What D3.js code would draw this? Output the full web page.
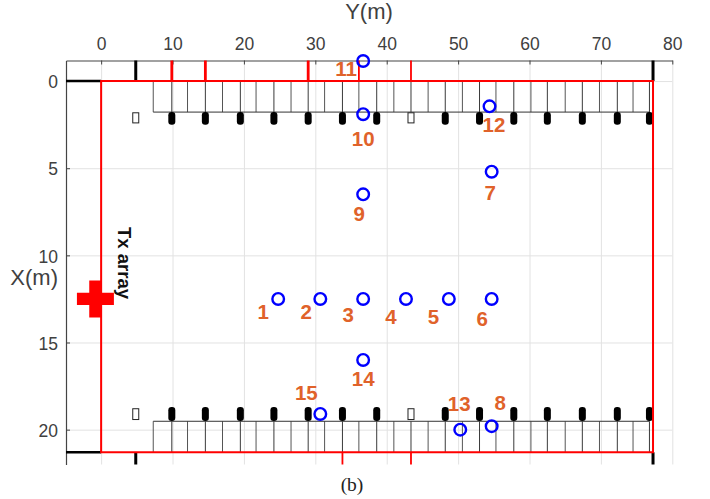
<!DOCTYPE html>
<html>
<head>
<meta charset="utf-8">
<script src="https://cdn.jsdelivr.net/npm/d3@7"></script>
<style>
  html, body { margin: 0; background: #fff; }
  text { font-family: "Liberation Sans", Arial, sans-serif; }
</style>
</head>
<body>
<div id="chart"></div>
<script>
// receiver points, numbered 1..15
const pointIds = [1, 2, 3, 4, 5, 6, 7, 8, 9, 10, 11, 12, 13, 14, 15];
const pointY = [24.8, 30.7, 36.7, 42.7, 48.7, 54.7, 54.7, 54.7, 36.7, 36.7, 36.7, 54.4, 50.3, 36.7, 30.7];
const pointX = [12.5, 12.5, 12.5, 12.5, 12.5, 12.5, 5.2, 19.8, 6.5, 1.9, -1.15, 1.45, 20, 16, 19.1];

// room outline and parking rows, in metres
const roomY = [0, 77.3];
const roomX = [0, 21.3];
const stallLines = [7.3, 9.9, 12.1, 14.6, 17, 19.5, 21.7, 24.2, 26.6, 29, 31.3, 33.8, 36.1, 38.6, 41, 43.4, 45.8, 48.2, 50.6, 53, 55.3, 57.8, 60.2, 62.5, 65, 67.4, 69.8, 72.3, 74.5, 76.8];
const stallDepth = 1.78;
const carPositions = [9.9, 14.6, 19.5, 24.2, 29, 33.8, 38.6, 48.2, 53, 57.8, 62.5, 67.4, 72.3, 76.8];
const pillarPositions = [4.85, 43.4];

// marks on the axis edges
const topRedTicks = [9.9, 14.6, 29];
const topThinRedTicks = [36.1, 43.4];
const bottomRedTicks = [33.8, 43.4];
const blackTicks = [4.85, 77.3];

const xTickValues = [0, 10, 20, 30, 40, 50, 60, 70, 80];
const yTickValues = [0, 5, 10, 15, 20];
const txPosition = [-0.8, 12.5];

const width = 710, height = 499;
const plotLeft = 66, plotRight = 672.3, plotTop = 60.5, plotBottom = 464.5;

const x = d3.scaleLinear().domain([-4.92, 80]).range([plotLeft, plotRight]);
const y = d3.scaleLinear().domain([-1.18, 22]).range([plotTop, plotBottom]);

const svg = d3.select('#chart').append('svg')
  .attr('width', width)
  .attr('height', height)
  .style('display', 'block');

// grid
svg.append('g')
  .attr('transform', `translate(0,${plotTop})`)
  .call(d3.axisTop(x).tickValues(xTickValues).tickSize(-(plotBottom - plotTop)).tickFormat(''))
  .call(g => g.select('.domain').remove())
  .selectAll('line').attr('stroke', '#e2e2e2');
svg.append('g')
  .attr('transform', `translate(${plotLeft},0)`)
  .call(d3.axisLeft(y).tickValues(yTickValues).tickSize(-(plotRight - plotLeft)).tickFormat(''))
  .call(g => g.select('.domain').remove())
  .selectAll('line').attr('stroke', '#e2e2e2');

// axes, ticks point inwards like matlab
const xAxis = svg.append('g')
  .attr('transform', `translate(0,${plotTop})`)
  .call(d3.axisTop(x).tickValues(xTickValues).tickSizeInner(-4).tickSizeOuter(0).tickPadding(11));
const yAxis = svg.append('g')
  .attr('transform', `translate(${plotLeft},0)`)
  .call(d3.axisLeft(y).tickValues(yTickValues).tickSizeInner(-4).tickSizeOuter(0).tickPadding(8));
[xAxis, yAxis].forEach(g => {
  g.select('.domain').attr('stroke', '#444').attr('stroke-width', 1.2);
  g.selectAll('.tick line').attr('stroke', '#444');
  g.selectAll('.tick text')
    .attr('fill', '#404040')
    .style('font-family', '"Liberation Sans", Arial, sans-serif')
    .style('font-size', '17.5px');
});
yAxis.selectAll('.tick text').attr('dy', '0.38em');

// parking rows
const rows = [
  { from: roomX[0], to: stallDepth, edge: stallDepth, carTop: 1.78, carBottom: 2.5, pillarTop: 1.82, pillarBottom: 2.4 },
  { from: roomX[1] - stallDepth, to: roomX[1], edge: roomX[1] - stallDepth, carTop: 18.7, carBottom: 19.5, pillarTop: 18.8, pillarBottom: 19.42 }
];
rows.forEach(row => {
  svg.append('g').selectAll('line')
    .data(stallLines)
    .join('line')
    .attr('x1', d => x(d)).attr('x2', d => x(d))
    .attr('y1', y(row.from)).attr('y2', y(row.to))
    .attr('stroke', (d, i) => i % 2 ? '#3a3a3a' : '#555')
    .attr('stroke-width', 1);
  svg.append('line')
    .attr('x1', x(stallLines[0])).attr('x2', x(stallLines[stallLines.length - 1]))
    .attr('y1', y(row.edge)).attr('y2', y(row.edge))
    .attr('stroke', '#333');
  svg.append('g').selectAll('rect')
    .data(carPositions)
    .join('rect')
    .attr('x', d => x(d) - 3.5)
    .attr('width', 7)
    .attr('y', y(row.carTop))
    .attr('height', y(row.carBottom) - y(row.carTop))
    .attr('rx', 3.2)
    .attr('fill', '#000');
  svg.append('g').selectAll('rect')
    .data(pillarPositions)
    .join('rect')
    .attr('x', d => x(d) - 3)
    .attr('width', 6)
    .attr('y', y(row.pillarTop))
    .attr('height', y(row.pillarBottom) - y(row.pillarTop))
    .attr('fill', '#fff')
    .attr('stroke', '#222');
});

// edge ticks
function edgeTicks(values, y1, y2, color, w) {
  svg.append('g').selectAll('line')
    .data(values)
    .join('line')
    .attr('x1', d => x(d)).attr('x2', d => x(d))
    .attr('y1', y1).attr('y2', y2)
    .attr('stroke', color)
    .attr('stroke-width', w);
}
edgeTicks(blackTicks, plotTop, y(roomX[0]), '#000', 3);
edgeTicks(blackTicks, y(roomX[1]), plotBottom, '#000', 3);
edgeTicks(topRedTicks, plotTop, y(roomX[0]), '#f00', 2.8);
edgeTicks(topThinRedTicks, plotTop, y(roomX[0]), '#f00', 1.8);
edgeTicks(bottomRedTicks, y(roomX[1]), plotBottom, '#f00', 1.8);

roomX.forEach(d => {
  svg.append('line')
    .attr('x1', plotLeft).attr('x2', x(roomY[0]))
    .attr('y1', y(d)).attr('y2', y(d))
    .attr('stroke', '#000')
    .attr('stroke-width', 2.4);
});

// room outline
svg.append('path')
  .attr('d', `M${x(roomY[0])},${y(roomX[1])}V${y(roomX[0])}H${x(roomY[1])}V${y(roomX[1])}Z`)
  .attr('fill', 'none')
  .attr('stroke', '#f00')
  .attr('stroke-width', 2);

// tx array marker, d3 cross spans 3 * sqrt(size / 5)
svg.append('path')
  .attr('d', d3.symbol(d3.symbolCross, 760)())
  .attr('transform', `translate(${x(txPosition[0])},${y(txPosition[1])})`)
  .attr('fill', '#f00');

// points
svg.append('g').selectAll('circle')
  .data(pointIds)
  .join('circle')
  .attr('cx', (d, i) => x(pointY[i]))
  .attr('cy', (d, i) => y(pointX[i]))
  .attr('r', 5.8)
  .attr('fill', 'none')
  .attr('stroke', '#0000ff')
  .attr('stroke-width', 2.4);

// label offsets from each point in px
const labelDx = [-15, -14, -15, -15, -15.5, -9.5, -1.5, 8.5, -4, 0, -17, 4.5, -1, 0, -14];
const labelDy = [14.5, 14.5, 17.5, 19.5, 19.5, 21.5, 22.5, -22, 21, 26, 9.5, 20, -24, 20.5, -19.5];
svg.append('g').selectAll('text')
  .data(pointIds)
  .join('text')
  .attr('x', (d, i) => x(pointY[i]) + labelDx[i])
  .attr('y', (d, i) => y(pointX[i]) + labelDy[i])
  .attr('text-anchor', 'middle')
  .attr('dominant-baseline', 'middle')
  .attr('fill', '#e0622a')
  .style('font-size', '20.5px')
  .style('font-weight', 'bold')
  .text(d => d);

// titles
svg.append('text')
  .attr('x', 369).attr('y', 19)
  .attr('text-anchor', 'middle')
  .attr('fill', '#404040')
  .style('font-size', '22px')
  .text('Y(m)');
svg.append('text')
  .attr('x', 58).attr('y', 285)
  .attr('text-anchor', 'end')
  .attr('fill', '#404040')
  .style('font-size', '22px')
  .text('X(m)');
svg.append('text')
  .attr('transform', 'translate(118,263) rotate(90)')
  .attr('text-anchor', 'middle')
  .attr('fill', '#111')
  .style('font-size', '18.5px')
  .style('font-weight', 'bold')
  .text('Tx array');
svg.append('text')
  .attr('x', 352).attr('y', 491)
  .attr('text-anchor', 'middle')
  .attr('fill', '#222')
  .style('font-family', '"Liberation Serif", "Times New Roman", serif')
  .style('font-size', '19.5px')
  .text('(b)');
</script>
</body>
</html>
